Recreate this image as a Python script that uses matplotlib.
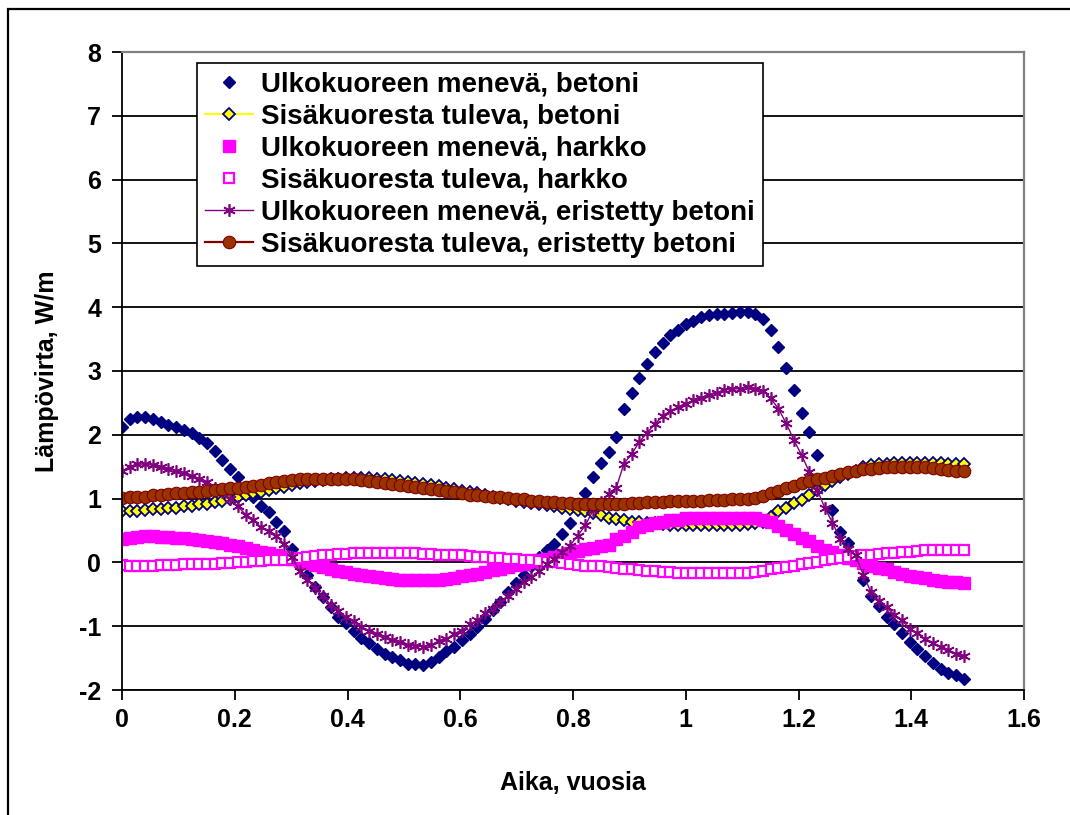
import numpy as np
import matplotlib
matplotlib.use("Agg")
import matplotlib.pyplot as plt
from matplotlib.patches import Rectangle
from matplotlib.ticker import FormatStrFormatter

plt.rcParams["font.family"] = ["Liberation Sans", "DejaVu Sans"]
plt.rcParams["font.weight"] = "bold"
plt.rcParams["axes.unicode_minus"] = False

step = 5.0 / 365.0

ulko_betoni = [
    2.13, 2.24, 2.28, 2.28, 2.24, 2.20, 2.16, 2.12, 2.08, 2.03,
    1.95, 1.87, 1.74, 1.61, 1.47, 1.34, 1.18, 1.03, 0.88, 0.79,
    0.63, 0.50, 0.21, 0.00, -0.20, -0.38, -0.54, -0.70, -0.85, -0.95,
    -1.07, -1.18, -1.26, -1.35, -1.43, -1.48, -1.53, -1.59, -1.60, -1.61,
    -1.56, -1.48, -1.39, -1.33, -1.21, -1.12, -1.01, -0.88, -0.75, -0.62,
    -0.47, -0.32, -0.19, -0.06, 0.08, 0.19, 0.29, 0.45, 0.62, 0.92,
    1.08, 1.34, 1.56, 1.73, 1.96, 2.41, 2.65, 2.89, 3.11, 3.29,
    3.44, 3.57, 3.64, 3.73, 3.78, 3.84, 3.87, 3.90, 3.89, 3.91,
    3.92, 3.92, 3.89, 3.82, 3.64, 3.37, 3.04, 2.70, 2.34, 2.04,
    1.69, 1.25, 0.82, 0.47, 0.30, 0.11, -0.27, -0.52, -0.69, -0.85,
    -0.97, -1.11, -1.25, -1.35, -1.47, -1.58, -1.67, -1.73, -1.77, -1.82]

sisa_betoni = [
    0.81, 0.81, 0.81, 0.82, 0.83, 0.84, 0.85, 0.86, 0.88, 0.89,
    0.91, 0.92, 0.95, 0.97, 1.00, 1.02, 1.05, 1.08, 1.11, 1.13,
    1.16, 1.18, 1.21, 1.24, 1.26, 1.28, 1.29, 1.30, 1.31, 1.32,
    1.32, 1.32, 1.32, 1.31, 1.30, 1.29, 1.28, 1.26, 1.25, 1.23,
    1.21, 1.19, 1.17, 1.15, 1.12, 1.10, 1.08, 1.06, 1.03, 1.01,
    0.99, 0.97, 0.95, 0.93, 0.92, 0.90, 0.88, 0.86, 0.84, 0.82,
    0.80, 0.78, 0.74, 0.70, 0.68, 0.66, 0.64, 0.63, 0.62, 0.61,
    0.60, 0.59, 0.59, 0.58, 0.58, 0.58, 0.58, 0.58, 0.58, 0.58,
    0.59, 0.60, 0.61, 0.64, 0.71, 0.80, 0.86, 0.93, 0.98, 1.05,
    1.13, 1.21, 1.27, 1.34, 1.39, 1.44, 1.49, 1.52, 1.54, 1.55,
    1.56, 1.56, 1.56, 1.56, 1.56, 1.56, 1.56, 1.55, 1.55, 1.54]

ulko_harkko = [
    0.37, 0.39, 0.40, 0.41, 0.41, 0.40, 0.40, 0.39, 0.38, 0.37,
    0.35, 0.34, 0.32, 0.30, 0.28, 0.26, 0.23, 0.20, 0.17, 0.14,
    0.12, 0.09, 0.06, 0.02, -0.01, -0.04, -0.07, -0.10, -0.13, -0.15,
    -0.18, -0.20, -0.22, -0.23, -0.25, -0.26, -0.27, -0.28, -0.28, -0.28,
    -0.28, -0.27, -0.26, -0.24, -0.22, -0.20, -0.18, -0.15, -0.12, -0.10,
    -0.07, -0.04, -0.02, 0.01, 0.03, 0.05, 0.08, 0.12, 0.15, 0.18,
    0.21, 0.23, 0.25, 0.27, 0.37, 0.42, 0.47, 0.55, 0.58, 0.61,
    0.63, 0.66, 0.67, 0.69, 0.69, 0.69, 0.69, 0.69, 0.69, 0.69,
    0.69, 0.69, 0.69, 0.67, 0.63, 0.57, 0.51, 0.45, 0.39, 0.33,
    0.25, 0.20, 0.16, 0.11, 0.07, 0.03, -0.01, -0.05, -0.08, -0.11,
    -0.15, -0.18, -0.21, -0.23, -0.25, -0.27, -0.29, -0.30, -0.31, -0.32]

sisa_harkko = [
    -0.04, -0.05, -0.06, -0.06, -0.05, -0.04, -0.04, -0.04, -0.03, -0.03,
    -0.03, -0.03, -0.02, -0.01, -0.01, 0.00, 0.01, 0.02, 0.02, 0.03,
    0.03, 0.04, 0.05, 0.07, 0.09, 0.10, 0.11, 0.12, 0.13, 0.13,
    0.14, 0.14, 0.15, 0.15, 0.15, 0.15, 0.15, 0.14, 0.14, 0.13,
    0.13, 0.12, 0.12, 0.11, 0.11, 0.10, 0.09, 0.08, 0.07, 0.07,
    0.06, 0.05, 0.04, 0.03, 0.02, 0.01, 0.00, -0.01, -0.03, -0.04,
    -0.05, -0.06, -0.06, -0.07, -0.08, -0.10, -0.11, -0.12, -0.13, -0.14,
    -0.15, -0.15, -0.16, -0.16, -0.16, -0.16, -0.16, -0.16, -0.16, -0.16,
    -0.16, -0.16, -0.15, -0.13, -0.11, -0.09, -0.07, -0.05, -0.03, -0.01,
    0.01, 0.03, 0.05, 0.07, 0.09, 0.10, 0.11, 0.12, 0.13, 0.14,
    0.15, 0.16, 0.17, 0.18, 0.19, 0.19, 0.19, 0.19, 0.19, 0.19]

ulko_eristetty = [
    1.43, 1.50, 1.54, 1.54, 1.52, 1.49, 1.47, 1.44, 1.40, 1.35,
    1.30, 1.26, 1.17, 1.10, 1.00, 0.88, 0.75, 0.66, 0.55, 0.49,
    0.41, 0.29, 0.08, -0.14, -0.27, -0.40, -0.53, -0.66, -0.76, -0.85,
    -0.92, -1.01, -1.07, -1.12, -1.17, -1.21, -1.25, -1.29, -1.31, -1.32,
    -1.30, -1.23, -1.20, -1.12, -1.07, -0.97, -0.91, -0.80, -0.73, -0.62,
    -0.52, -0.41, -0.31, -0.23, -0.14, -0.03, 0.06, 0.16, 0.26, 0.42,
    0.58, 0.82, 0.95, 1.07, 1.17, 1.55, 1.70, 1.89, 2.03, 2.17,
    2.29, 2.37, 2.43, 2.49, 2.54, 2.58, 2.63, 2.66, 2.70, 2.72,
    2.72, 2.75, 2.72, 2.69, 2.57, 2.41, 2.18, 1.92, 1.68, 1.42,
    1.14, 0.86, 0.62, 0.37, 0.21, 0.11, -0.20, -0.47, -0.60, -0.70,
    -0.82, -0.91, -1.04, -1.11, -1.20, -1.26, -1.33, -1.38, -1.43, -1.47]

sisa_eristetty = [
    1.01, 1.02, 1.03, 1.03, 1.05, 1.06, 1.07, 1.08, 1.09, 1.10,
    1.11, 1.12, 1.14, 1.15, 1.16, 1.17, 1.18, 1.20, 1.22, 1.24,
    1.26, 1.27, 1.29, 1.30, 1.31, 1.31, 1.31, 1.31, 1.31, 1.31,
    1.30, 1.29, 1.28, 1.26, 1.24, 1.23, 1.21, 1.20, 1.18, 1.17,
    1.15, 1.13, 1.12, 1.10, 1.08, 1.06, 1.05, 1.04, 1.03, 1.02,
    1.01, 1.00, 0.99, 0.97, 0.96, 0.95, 0.94, 0.93, 0.93, 0.92,
    0.92, 0.92, 0.92, 0.92, 0.92, 0.92, 0.93, 0.93, 0.94, 0.95,
    0.95, 0.96, 0.96, 0.97, 0.97, 0.97, 0.98, 0.98, 0.98, 0.99,
    0.99, 1.00, 1.01, 1.04, 1.08, 1.12, 1.16, 1.20, 1.24, 1.27,
    1.30, 1.33, 1.36, 1.39, 1.42, 1.44, 1.46, 1.47, 1.48, 1.49,
    1.50, 1.50, 1.50, 1.50, 1.49, 1.48, 1.47, 1.45, 1.44, 1.44]

labels = ["Ulkokuoreen menevä, betoni",
          "Sisäkuoresta tuleva, betoni",
          "Ulkokuoreen menevä, harkko",
          "Sisäkuoresta tuleva, harkko",
          "Ulkokuoreen menevä, eristetty betoni",
          "Sisäkuoresta tuleva, eristetty betoni"]

x_ticks = [0, 0.2, 0.4, 0.6, 0.8, 1.0, 1.2, 1.4, 1.6]
y_ticks = [-2, -1, 0, 1, 2, 3, 4, 5, 6, 7, 8]

t = np.arange(len(ulko_betoni)) * step

fig = plt.figure(figsize=(10.7, 8.15), dpi=100)
ax = fig.add_axes([122/1070, 1-690/815, (1024-122)/1070, (690-52)/815])

# outer chart border (only top and left are visible in the crop)
fig.patches.append(Rectangle((8/1070, -0.1), 1.2, 1.1-9/815, transform=fig.transFigure,
                             fill=False, edgecolor="black", linewidth=1.6, zorder=0))

ax.plot(t, ulko_betoni, linestyle="none", marker="D", ms=6.6, color="#000080",
        mec="#000080", label=labels[0])
ax.plot(t, sisa_betoni, "-", color="#FFFF00", lw=1.5, marker="D", ms=6.0,
        mfc="#FFFF00", mec="#000080", mew=1.3, label=labels[1])
ax.plot(t, ulko_harkko, linestyle="none", marker="s", ms=8, color="#FF00FF",
        mec="#FF00FF", label=labels[2])
ax.plot(t, sisa_harkko, linestyle="none", marker="s", ms=7.2, mfc="white",
        mec="#FF00FF", mew=1.6, label=labels[3])
ax.plot(t, ulko_eristetty, "-", color="#800080", lw=1.0, marker=(6, 2, 0), ms=9,
        mew=1.2, label=labels[4])
ax.plot(t, sisa_eristetty, "-", color="#800000", lw=1.6, marker="o", ms=9,
        mfc="#993300", mec="#800000", mew=0.8, label=labels[5])

ax.set_xlim(0, 1.6)
ax.set_ylim(-2, 8)
ax.set_xticks(x_ticks)
ax.set_yticks(y_ticks)
ax.xaxis.set_major_formatter(FormatStrFormatter("%g"))
ax.tick_params(axis="both", direction="out", length=7, width=1.3, labelsize=18)
ax.tick_params(axis="y", pad=8)
ax.tick_params(axis="x", pad=6)

ax.set_axisbelow(True)
ax.yaxis.grid(True, color="black", linewidth=1.3)
ax.xaxis.grid(False)
for side in ["left", "bottom"]:
    ax.spines[side].set_color("black")
    ax.spines[side].set_linewidth(1.3)
for side in ["top", "right"]:
    ax.spines[side].set_color("#808080")
    ax.spines[side].set_linewidth(1.6)

ax.set_xlabel("Aika, vuosia", fontsize=18, fontweight="bold", labelpad=28)
ax.set_ylabel("Lämpövirta, W/m", fontsize=18, fontweight="bold", labelpad=14)

leg = ax.legend(loc="upper left", bbox_to_anchor=(197/1070, 1-63/815),
                bbox_transform=fig.transFigure, borderaxespad=0, numpoints=1,
                fontsize=20, frameon=True, fancybox=False, framealpha=1,
                handlelength=1.7, handletextpad=0.3, labelspacing=0.22,
                borderpad=0.3)
leg.get_frame().set_edgecolor("black")
leg.get_frame().set_linewidth(1.2)

fig.savefig("out.png", dpi=100)
